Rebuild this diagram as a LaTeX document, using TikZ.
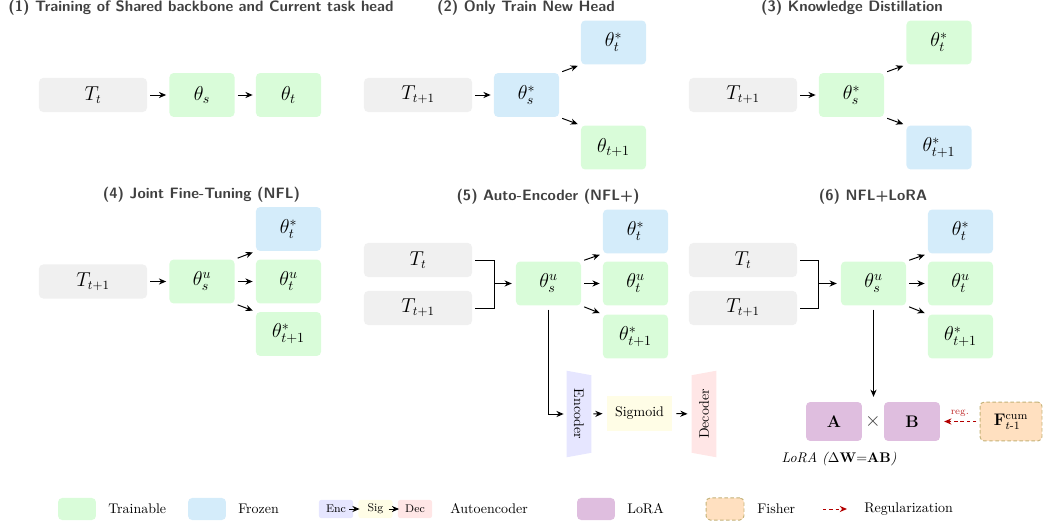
\documentclass[tikz,border=0pt]{standalone}
\usepackage{amsmath}
\usetikzlibrary{arrows.meta,backgrounds}

\definecolor{trainc}{RGB}{217,252,217}
\definecolor{frozc}{RGB}{212,236,250}
\definecolor{inc}{RGB}{240,240,240}
\definecolor{encc}{RGB}{230,230,255}
\definecolor{sigc}{RGB}{255,253,230}
\definecolor{decc}{RGB}{255,230,230}
\definecolor{lorac}{RGB}{223,190,223}
\definecolor{fishc}{RGB}{255,224,192}
\definecolor{fishb}{RGB}{196,178,120}
\definecolor{regc}{RGB}{179,0,0}
\definecolor{titlec}{RGB}{64,64,64}

\begin{document}
\begin{tikzpicture}[x=0.7165pt,y=-0.7165pt,
  inbox/.style={rounded corners=3pt, fill=inc, minimum width=77.4pt, minimum height=24.4pt, inner sep=0pt, font=\fontsize{13.5}{16}\selectfont},
  pbox/.style={rounded corners=3pt, minimum width=46.6pt, minimum height=31.5pt, inner sep=0pt, font=\Large},
  train/.style={pbox, fill=trainc},
  froz/.style={pbox, fill=frozc},
  lorabox/.style={rounded corners=3pt, fill=lorac, minimum width=40.1pt, minimum height=27.9pt, inner sep=0pt, font=\large},
  fishbox/.style={rounded corners=3pt, fill=fishc, draw=fishb, line width=0.7pt, dash pattern=on 2.5pt off 1.8pt},
  trap/.style={minimum width=17.2pt, minimum height=61.6pt, inner sep=0pt},
  sigbox/.style={fill=sigc, minimum width=46.6pt, minimum height=25.1pt, inner sep=0pt},
  ttl/.style={font=\fontsize{10.8}{13}\selectfont\sffamily\bfseries, text=titlec},
  arr/.style={-{Stealth[length=5.2pt,width=4.4pt]}, line width=0.7pt, shorten <=2.2pt, shorten >=2.2pt},
  conn/.style={line width=0.7pt},
  regarr/.style={-{Stealth[length=5.2pt,width=4.4pt]}, regc, line width=0.7pt, dash pattern=on 2.5pt off 2pt, shorten <=2.2pt, shorten >=2.8pt},
  swatch/.style={rounded corners=3pt, minimum width=27.2pt, minimum height=15.8pt, inner sep=0pt},
  mini/.style={rounded corners=1.5pt, minimum width=24.4pt, minimum height=12.9pt, inner sep=0pt, font=\footnotesize},
  legtext/.style={anchor=west, inner sep=0pt},
]
\useasboundingbox (0,0) rectangle (1044,523);

% ---------- (1) shared backbone and current head ----------
\node[ttl] (t1) at (201,8) {(1) Training of Shared backbone and Current task head};
\node[inbox] (T1) at (93,95) {$T_t$};
\node[train] (s1) at (202,95) {$\theta_s$};
\node[train] (h1) at (288.5,95) {$\theta_t$};
\draw[arr] (T1) -- (s1);
\draw[arr] (s1) -- (h1);

% ---------- (2) only the new head ----------
\node[ttl] (t2) at (526,8) {(2) Only Train New Head};
\node[inbox] (T2) at (418,95) {$T_{t+1}$};
\node[froz] (s2) at (526.5,95) {$\theta_s^*$};
\node[froz] (o2) at (613.5,42.5) {$\theta_t^*$};
\node[train] (n2) at (613.5,147.5) {$\theta_{t+1}$};
\draw[arr] (T2) -- (s2);
\draw[arr] (s2.north east) -- (o2.south west);
\draw[arr] (s2.south east) -- (n2.north west);

% ---------- (3) distillation ----------
\node[ttl] (t3) at (852,8) {(3) Knowledge Distillation};
\node[inbox] (T3) at (743,95) {$T_{t+1}$};
\node[train] (s3) at (851.5,95) {$\theta_s^*$};
\node[train] (o3) at (939,42.5) {$\theta_t^*$};
\node[froz] (n3) at (939,147.5) {$\theta_{t+1}^*$};
\draw[arr] (T3) -- (s3);
\draw[arr] (s3.north east) -- (o3.south west);
\draw[arr] (s3.south east) -- (n3.north west);

% ---------- (4) joint fine-tuning ----------
\node[ttl] (t4) at (201.5,195) {(4) Joint Fine-Tuning (NFL)};
\node[inbox] (T4) at (93,281.5) {$T_{t+1}$};
\node[train] (s4) at (202,281.5) {$\theta_s^u$};
\node[froz] (a4) at (288.5,229) {$\theta_t^*$};
\node[train] (b4) at (288.5,281.5) {$\theta_t^u$};
\node[train] (c4) at (288.5,334) {$\theta_{t+1}^*$};
\draw[arr] (T4) -- (s4);
\draw[arr] (s4.north east) -- (a4.south west);
\draw[arr] (s4) -- (b4);
\draw[arr] (s4.south east) -- (c4.north west);

% ---------- (5) auto-encoder ----------
\node[ttl] (t5) at (548,197) {(5) Auto-Encoder (NFL+)};
\node[inbox] (T5a) at (418,260) {$T_t$};
\node[inbox] (T5b) at (418,308) {$T_{t+1}$};
\node[train] (s5) at (548.5,283.5) {$\theta_s^u$};
\node[froz] (a5) at (635.5,231.5) {$\theta_t^*$};
\node[train] (b5) at (635.5,283.5) {$\theta_t^u$};
\node[train] (c5) at (635.5,336.5) {$\theta_{t+1}^*$};
\coordinate (m5) at (494,283.5);
\draw[conn] ([xshift=2.2pt]T5a.east) -| (m5);
\draw[conn] ([xshift=2.2pt]T5b.east) -| (m5);
\draw[arr, shorten <=0pt, shorten >=2.8pt] (m5) -- (s5);
\draw[arr] (s5.north east) -- (a5.south west);
\draw[arr] (s5) -- (b5);
\draw[arr] (s5.south east) -- (c5.north west);

\node[trap] (enc) at (579,414) {\rotatebox{-90}{Encoder}};
\node[sigbox] (sg) at (639.5,413.5) {Sigmoid};
\node[trap] (dec) at (704,414) {\rotatebox{90}{Decoder}};
\begin{scope}[on background layer]
  \fill[encc] (enc.north west) -- ([yshift=-3.2pt]enc.north east) -- ([yshift=3.2pt]enc.south east) -- (enc.south west) -- cycle;
  \fill[decc] ([yshift=-3.2pt]dec.north west) -- (dec.north east) -- (dec.south east) -- ([yshift=3.2pt]dec.south west) -- cycle;
\end{scope}
\draw[arr, shorten <=2.8pt] (s5.south) |- (enc.west);
\draw[arr, shorten <=1.5pt, shorten >=3pt] (enc.east) -- (sg.west);
\draw[arr, shorten <=3pt, shorten >=3pt] (sg.east) -- (dec.west);

% ---------- (6) NFL with LoRA ----------
\node[ttl] (t6) at (873,197) {(6) NFL+LoRA};
\node[inbox] (T6a) at (743,260) {$T_t$};
\node[inbox] (T6b) at (743,308) {$T_{t+1}$};
\node[train] (s6) at (873.5,283.5) {$\theta_s^u$};
\node[froz] (a6) at (960.5,231.5) {$\theta_t^*$};
\node[train] (b6) at (960.5,283.5) {$\theta_t^u$};
\node[train] (c6) at (960.5,336.5) {$\theta_{t+1}^*$};
\coordinate (m6) at (818,283.5);
\draw[conn] ([xshift=2.2pt]T6a.east) -| (m6);
\draw[conn] ([xshift=2.2pt]T6b.east) -| (m6);
\draw[arr, shorten <=0pt, shorten >=2.8pt] (m6) -- (s6);
\draw[arr] (s6.north east) -- (a6.south west);
\draw[arr] (s6) -- (b6);
\draw[arr] (s6.south east) -- (c6.north west);

\node[lorabox] (A) at (834,421.5) {$\mathbf{A}$};
\node[font=\Large, text=titlec, inner sep=0pt] (x6) at (873,421.5) {$\times$};
\node[lorabox] (B) at (912,421.5) {$\mathbf{B}$};
\node[fishbox, minimum width=44.4pt, minimum height=27.9pt, inner sep=0pt, font=\large] (F) at (1011,421.5) {$\mathbf{F}^{\mathrm{cum}}_{t\text{-}1}$};
\draw[arr, shorten <=2.8pt, shorten >=3.5pt] (s6.south) -- (s6.south |- A.north);
\draw[regarr] (F.west) -- (B.east) node[midway, above, inner sep=3pt, font=\scriptsize, text=regc!85] (rg) {reg.};
\node (lr) at (839,459) {\textit{LoRA ($\Delta\mathbf{W}{=}\mathbf{AB}$)}};

% ---------- legend ----------
\node[swatch, fill=trainc] (k1) at (77,509) {};
\node[legtext] (k1t) at (108,509) {Trainable};
\node[swatch, fill=frozc] (k2) at (207,509) {};
\node[legtext] (k2t) at (238,509) {Frozen};
\node[mini, fill=encc] (k3a) at (336,509) {Enc};
\node[mini, fill=sigc] (k3b) at (375.5,509) {Sig};
\node[mini, fill=decc] (k3c) at (415,509) {Dec};
\draw[arr, shorten <=0pt, shorten >=0pt] ([xshift=-3pt]k3a.east) -- ([xshift=1pt]k3b.west);
\draw[arr, shorten <=0pt, shorten >=0pt] ([xshift=-3pt]k3b.east) -- ([xshift=1pt]k3c.west);
\node[legtext] (k3t) at (450,509) {Autoencoder};
\node[swatch, fill=lorac] (k4) at (596,509) {};
\node[legtext] (k4t) at (627,509) {LoRA};
\node[swatch, fishbox] (k5) at (725,509) {};
\node[legtext] (k5t) at (757,509) {Fisher};
\coordinate (k6a) at (823,509);
\coordinate (k6b) at (847,509);
\draw[regarr, shorten <=0pt, shorten >=0pt] (k6a) -- (k6b);
\node[legtext] (k6t) at (864,509) {Regularization};
\end{tikzpicture}
\end{document}
